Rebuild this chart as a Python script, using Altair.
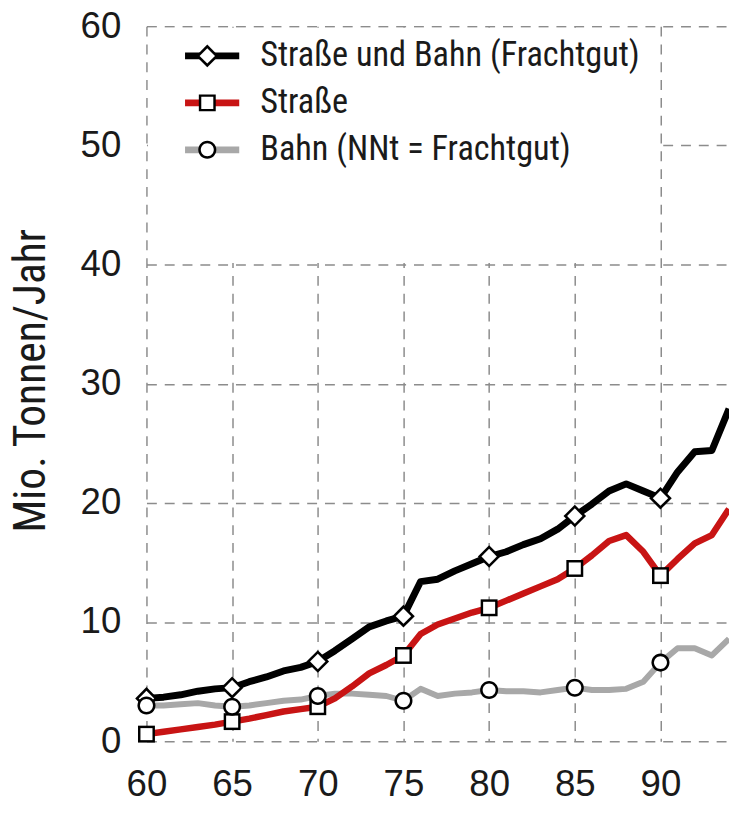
import altair as alt
import pandas as pd

# ---------------- data ----------------
years = list(range(60, 95))
strasse_und_bahn = [3.6, 3.7, 3.9, 4.2, 4.4, 4.5, 5.0, 5.4, 5.9, 6.2,
                    6.7, 7.6, 8.6, 9.6, 10.1, 10.5, 13.4, 13.6, 14.3, 14.9,
                    15.5, 15.9, 16.5, 17.0, 17.8, 18.9, 19.9, 21.0, 21.6, 21.0,
                    20.4, 22.6, 24.3, 24.4, 27.9]
strasse = [0.6, 0.8, 1.0, 1.2, 1.4, 1.65, 1.9, 2.2, 2.5, 2.7,
           2.9, 3.6, 4.6, 5.7, 6.4, 7.2, 9.0, 9.8, 10.3, 10.8,
           11.2, 11.8, 12.4, 13.0, 13.6, 14.5, 15.6, 16.8, 17.3, 15.9,
           13.9, 15.3, 16.6, 17.3, 19.5]
bahn = [3.0, 3.0, 3.1, 3.2, 3.0, 2.9, 3.0, 3.2, 3.4, 3.5,
        3.8, 4.0, 4.0, 3.9, 3.8, 3.4, 4.4, 3.8, 4.0, 4.1,
        4.3, 4.2, 4.2, 4.1, 4.3, 4.5, 4.3, 4.3, 4.4, 5.0,
        6.6, 7.8, 7.8, 7.2, 8.6]

series_labels = ["Straße und Bahn (Frachtgut)", "Straße", "Bahn (NNt = Frachtgut)"]
marker_keys = ["diamond", "square", "circle"]
marker_rim_keys = ["diamond rim", "square rim", "circle rim"]
x_ticks = [60, 65, 70, 75, 80, 85, 90]
y_ticks = [0, 10, 20, 30, 40, 50, 60]
axis_title = "Mio. Tonnen/Jahr"

# region of the plot that the legend panel occupies (years / values)
panel_years = [60, 90]
panel_values = [40, 60]

# ---------------- styles ----------------
series_colors = ["#000000", "#c81414", "#a8a8a8"]
series_widths = [7, 6, 6]
SYM = 1444  # symbol size: unit paths below are scaled by 19 px
BOX = "M-1,-1M1,1"  # empty sub-path: gives every legend symbol the same extent
LEGEND_LINE = BOX + "M-1.7,0L1.7,0"
rim_paths = [
    BOX + "M-0.60,0L0,-0.60L0.60,0L0,0.60Z",
    BOX + "M-0.45,-0.45L0.45,-0.45L0.45,0.45L-0.45,0.45Z",
    BOX + "M-0.48,0A0.48,0.48,0,1,1,0.48,0A0.48,0.48,0,1,1,-0.48,0Z",
]
face_paths = [
    BOX + "M-0.41,0L0,-0.41L0.41,0L0,0.41Z",
    BOX + "M-0.32,-0.32L0.32,-0.32L0.32,0.32L-0.32,0.32Z",
    BOX + "M-0.345,0A0.345,0.345,0,1,1,0.345,0A0.345,0.345,0,1,1,-0.345,0Z",
]
CONDENSED = "Roboto Condensed, Roboto, sans-serif"
REGULAR = "Liberation Sans, Arial, sans-serif"
TEXT = "#1a1a1a"

series_values = dict(zip(series_labels, [strasse_und_bahn, strasse, bahn]))
marker_of = dict(zip(series_labels, marker_keys))
rim_of = dict(zip(series_labels, marker_rim_keys))

def long_table(order):
    rows = []
    for s in order:
        for yr, v in zip(years, series_values[s]):
            rows.append({"year": yr, "value": v, "series": s,
                         "marker": marker_of[s], "rim": rim_of[s]})
    return pd.DataFrame(rows)

lines_df = long_table(series_labels[::-1])          # grey drawn first, black on top
points_df = long_table(series_labels)
points_df = points_df[(points_df["year"] % 5 == 0) & (points_df["year"] <= 90)]
panel_df = pd.DataFrame({"x": [panel_years[0]], "x2": [panel_years[1]],
                         "y": [panel_values[0]], "y2": [panel_values[1]]})

x_scale = alt.Scale(domain=[60, 94], nice=False, zero=False)
y_scale = alt.Scale(domain=[0, 60], nice=False)

x_axis = alt.Axis(values=x_ticks, title=None, labelFont=REGULAR, labelFontSize=37,
                  labelColor=TEXT, labelPadding=55, labelBaseline="alphabetic",
                  ticks=False, domain=False, grid=True, labelFlush=False)
y_axis = alt.Axis(values=y_ticks, title=axis_title, labelFont=REGULAR, labelFontSize=37,
                  labelColor=TEXT, labelPadding=26, ticks=False, domain=False, grid=True,
                  titleFont=CONDENSED, titleFontSize=44, titleFontWeight="normal",
                  titleColor=TEXT, titleX=-116, titleY=358, titleAngle=-90,
                  titleBaseline="middle", titleAlign="center")

legend_common = dict(orient="none", legendX=39, legendY=11, title=None, padding=0,
                     symbolSize=SYM, symbolStrokeWidth=7, labelFont=CONDENSED,
                     labelFontSize=34.6, labelColor=TEXT, labelOffset=31,
                     labelLimit=700, direction="vertical", clipHeight=38,
                     rowPadding=9.5)

panel = alt.Chart(panel_df).mark_rect(
    fill="white", xOffset=1.5, x2Offset=-1.5, yOffset=-1.5, y2Offset=1.5
).encode(
    x=alt.X("x:Q", scale=x_scale, axis=x_axis),
    x2="x2:Q",
    y=alt.Y("y:Q", scale=y_scale, axis=y_axis),
    y2="y2:Q",
)

lines = alt.Chart(lines_df).mark_line(clip=True, strokeJoin="round", strokeCap="butt").encode(
    x=alt.X("year:Q", scale=x_scale, axis=x_axis),
    y=alt.Y("value:Q", scale=y_scale, axis=y_axis),
    stroke=alt.Stroke("series:N",
                      scale=alt.Scale(domain=series_labels, range=series_colors),
                      legend=alt.Legend(symbolType=LEGEND_LINE, **legend_common)),
    strokeWidth=alt.StrokeWidth("series:N",
                                scale=alt.Scale(domain=series_labels, range=series_widths),
                                legend=None),
    detail="series:N",
)


def marker_layer(series, field, keys, paths, fill, show_legend):
    legend = None
    if show_legend:
        legend = alt.Legend(symbolFillColor=fill, symbolStrokeColor="transparent",
                            symbolOpacity=1, labelExpr="''", **legend_common)
    data = points_df[points_df["series"] == series]
    return alt.Chart(data).mark_point(
        filled=True, fill=fill, color=fill, strokeWidth=0, opacity=1, size=SYM
    ).encode(
        x=alt.X("year:Q", scale=x_scale),
        y=alt.Y("value:Q", scale=y_scale),
        shape=alt.Shape(f"{field}:N", scale=alt.Scale(domain=keys, range=paths),
                        legend=legend),
    )


marker_layers = []
for i, s in enumerate(series_labels):
    marker_layers.append(marker_layer(s, "rim", marker_rim_keys, rim_paths, "black", i == 0))
    marker_layers.append(marker_layer(s, "marker", marker_keys, face_paths, "white", i == 0))

chart = alt.layer(panel, lines, *marker_layers).resolve_scale(
    stroke="independent", shape="independent"
).properties(
    width=589, height=723,
    autosize=alt.AutoSizeParams(type="none"),
    padding={"left": 140, "top": 14, "right": 0, "bottom": 59},
).configure_view(stroke=None).configure_axis(
    gridColor="#8c8c8c", gridDash=[10, 8], gridWidth=1.5, gridOpacity=1
)

chart.save("out.html", embed_options={"renderer": "svg", "actions": False})
